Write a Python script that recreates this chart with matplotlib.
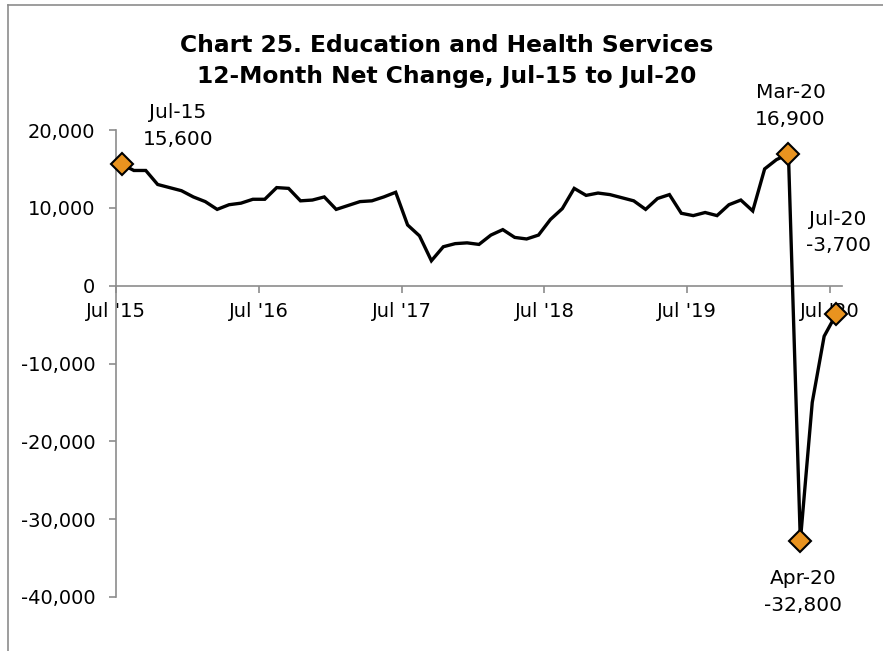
import matplotlib
matplotlib.use('Agg')
import matplotlib.pyplot as plt
from matplotlib.lines import Line2D
import numpy as np
import pandas as pd

# 12-month net change, Jul 2015 .. Jul 2020
months = pd.date_range('2015-07-01', '2020-07-01', freq='MS')
net_change = [15600, 14800, 14800, 13000, 12600, 12200,
              11400, 10800, 9800, 10400, 10600, 11100,
              11100, 12600, 12500, 10900, 11000, 11400,
              9800, 10300, 10800, 10900, 11400, 12000,
              7800, 6400, 3200, 5000, 5400, 5500,
              5300, 6500, 7200, 6200, 6000, 6500,
              8500, 9900, 12500, 11600, 11900, 11700,
              11300, 10900, 9800, 11200, 11700, 9300,
              9000, 9400, 9000, 10400, 11000, 9600,
              15000, 16200, 16900, -32800, -15000, -6500, -3700]
highlight_idx = [0, 56, 57, 60]
highlight_offsets = [(56, 38), (2, 48), (3, -51), (2, 82)]
xtick_labels = ["Jul '15", "Jul '16", "Jul '17", "Jul '18", "Jul '19", "Jul '20"]
yticks = [20000, 10000, 0, -10000, -20000, -30000, -40000]

title = 'Chart 25. Education and Health Services\n12-Month Net Change, Jul-15 to Jul-20'

plt.rcParams['font.family'] = ['DejaVu Sans']
fig = plt.figure(figsize=(8.83, 6.51), dpi=100)
ax = fig.add_axes([116/883, 1 - 597/651, 726/883, 467/651])

x = np.arange(len(net_change))
ax.plot(x, net_change, color='black', linewidth=2.4, zorder=3, solid_joinstyle='miter')
hx = [x[i] for i in highlight_idx]
hy = [net_change[i] for i in highlight_idx]
ax.plot(hx, hy, linestyle='none', marker='D', markersize=11, markerfacecolor='#E9931F',
        markeredgecolor='black', markeredgewidth=1.5, zorder=4, clip_on=False)

for i, off in zip(highlight_idx, highlight_offsets):
    val = net_change[i]
    lab = months[i].strftime('%b-%y') + '\n' + ('{:,}'.format(val))
    ax.annotate(lab, xy=(x[i], val), xytext=off, textcoords='offset pixels',
                ha='center', va='center', fontsize=14.5, linespacing=1.5)

ax.set_xlim(-0.5, len(net_change) - 0.5)
ax.set_ylim(-40000, 20000)

ax.spines['top'].set_visible(False)
ax.spines['right'].set_visible(False)
ax.spines['bottom'].set_position(('data', 0))
for s in ['left', 'bottom']:
    ax.spines[s].set_color('#8c8c8c')
    ax.spines[s].set_linewidth(1.2)

ax.set_yticks(yticks)
ax.set_yticklabels(['{:,}'.format(v) for v in yticks])
ax.set_xticks(np.arange(-0.5, len(net_change), 12))
ax.set_xticklabels(xtick_labels)
ax.tick_params(axis='both', colors='#8c8c8c', labelcolor='black', labelsize=14,
               direction='out', length=5, width=1.2)
ax.tick_params(axis='y', pad=10)
ax.tick_params(axis='x', pad=7)

fig.text(0.506, 1 - 61/651, title, ha='center', va='center', fontsize=16.8,
         fontweight='bold', linespacing=1.4)

# chart-area border (cropped on right and bottom)
fig.add_artist(Line2D([8/883, 1.0], [1 - 5/651, 1 - 5/651], color='#8c8c8c', linewidth=1.2))
fig.add_artist(Line2D([8/883, 8/883], [0.0, 1 - 5/651], color='#8c8c8c', linewidth=1.2))

fig.savefig('out.png', dpi=100)
